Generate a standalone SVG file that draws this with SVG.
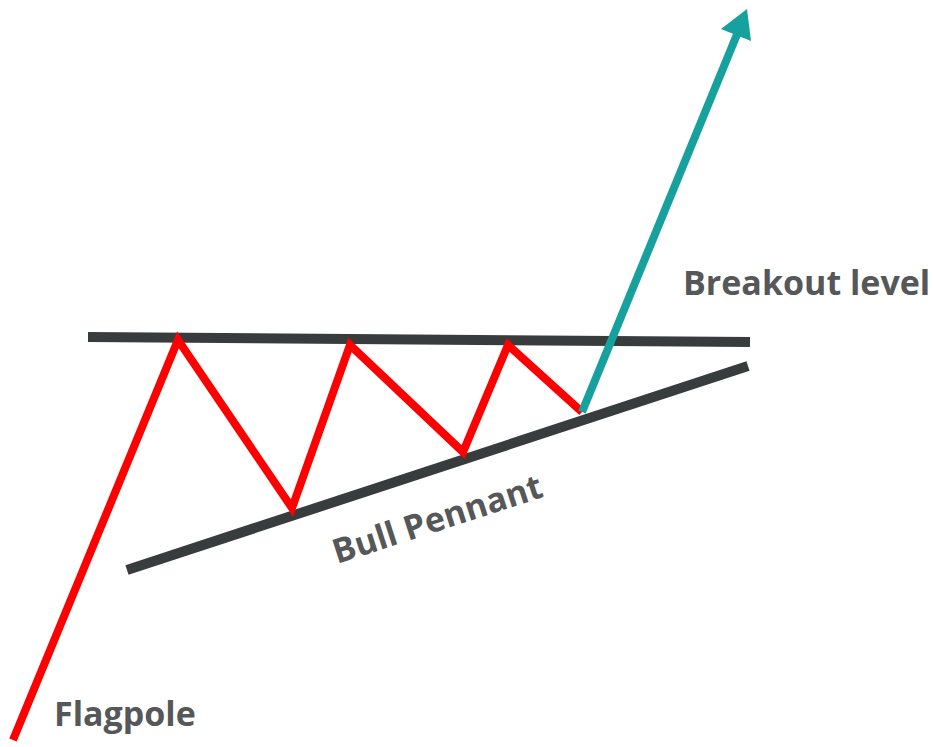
<svg xmlns="http://www.w3.org/2000/svg" width="934" height="747" viewBox="0 0 934 747">
<style>
.lbl{font-family:"Open Sans","Liberation Sans",sans-serif;font-weight:bold;font-size:34px;fill:#555759}
.bar{stroke:#383c3d;stroke-width:10;fill:none}
</style>
<rect width="934" height="747" fill="#ffffff"/>
<g id="connectors">
<line id="resistance" class="bar" x1="88" y1="337" x2="750" y2="342"/>
<line id="support" class="bar" x1="127" y1="570" x2="748" y2="366"/>
<polyline id="price" points="13,740 178,340 292,508 350,345 463,452 508,345 582,412" fill="none" stroke="#ff0000" stroke-width="8" stroke-linejoin="miter"/>
<line id="breakout" x1="582" y1="412" x2="738" y2="32" stroke="#17a19e" stroke-width="8"/>
<polygon points="747,9 751,41 721,29" fill="#17a19e"/>
</g>
<g id="breakout-label"><text class="lbl" x="683" y="295">Breakout level</text></g>
<g id="pennant-label"><text class="lbl" transform="translate(337,564) rotate(-18)">Bull Pennant</text></g>
<g id="flagpole-label"><text class="lbl" x="54" y="726">Flagpole</text></g>
</svg>
